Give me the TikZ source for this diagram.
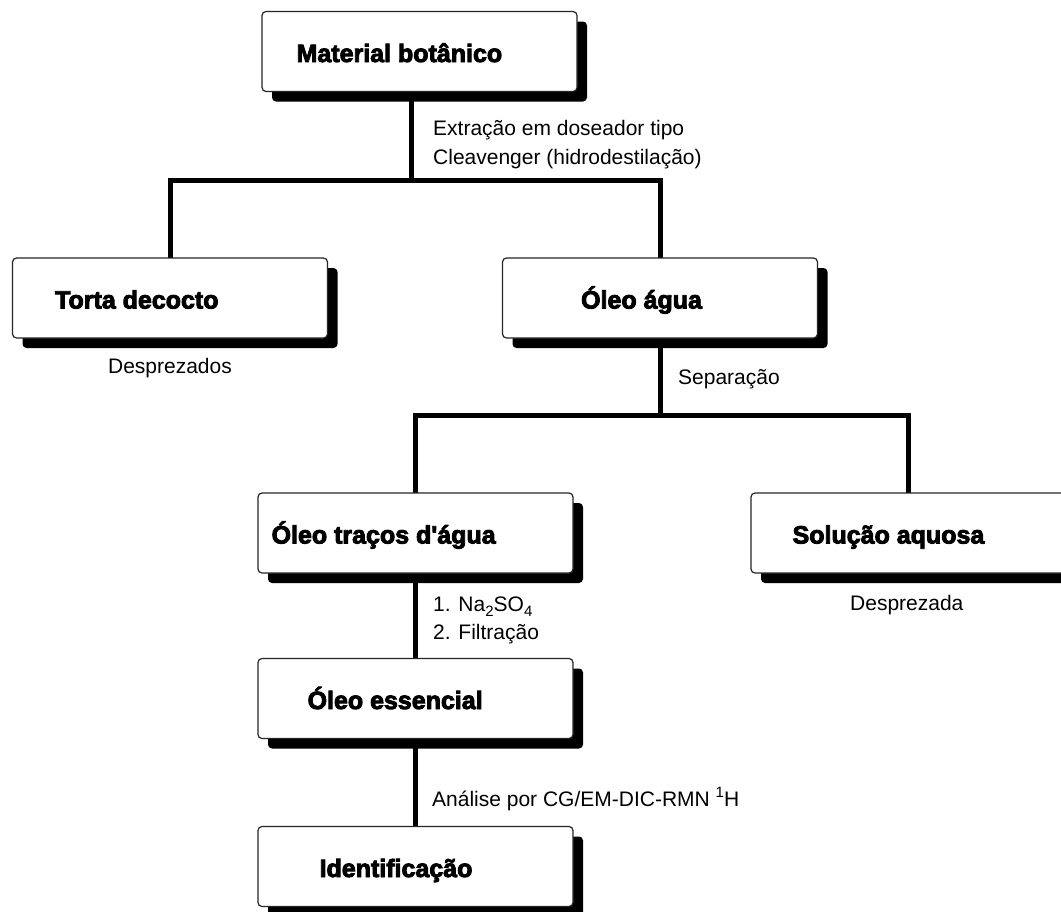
\documentclass[tikz,border=0pt]{standalone}
\usepackage{fontspec}
\setmainfont{Liberation Sans}
\newfontfamily\titlefont{Liberation Sans Bold}[RawFeature={embolden=3.5}]
\usetikzlibrary{shadows}
\pgfdeclarelayer{background}
\pgfsetlayers{background,main}

% small raised / lowered digits for formulas
\newcommand{\lowdigit}[1]{\raisebox{-0.5ex}{\fontsize{15}{15}\selectfont #1}}
\newcommand{\highdigit}[1]{\raisebox{0.8ex}{\fontsize{15}{15}\selectfont #1}}

\tikzset{
  stagebox/.style={draw=black!85, line width=1.2pt, fill=white,
    rounded corners=4pt, minimum width=315pt, minimum height=80pt,
    inner sep=0pt,
    drop shadow={shadow xshift=10pt, shadow yshift=-10pt,
      fill=black, opacity=1}},
  stagetitle/.style={anchor=base west, inner sep=0pt,
    font=\titlefont\fontsize{25}{30}\selectfont},
  steptext/.style={anchor=base west, inner sep=0pt,
    font=\fontsize{21}{28}\selectfont},
  conn/.style={line width=5pt, black, line join=miter},
}

\begin{document}
\begin{tikzpicture}[x=1pt, y=-1pt]
\useasboundingbox (0,0) rectangle (1061,911);
\clip (0,0) rectangle (1061,911);

% stage boxes
\node[stagebox] (mat)   at (419.5, 51.5) {};
\node[stagebox] (torta) at (170, 298) {};
\node[stagebox] (oleo)  at (660, 298) {};
\node[stagebox] (traco) at (415.5, 533) {};
\node[stagebox] (sol)   at (908.5, 533) {};
\node[stagebox] (ess)   at (415.5, 698.5) {};
\node[stagebox] (ident) at (415.5, 866.5) {};

% stage titles
\node[stagetitle] (tmat)   at ([shift={(35,10.5)}]mat.west)   {Material botânico};
\node[stagetitle] (ttorta) at ([shift={(43,10.5)}]torta.west) {Torta decocto};
\node[stagetitle] (toleo)  at ([shift={(79,10.5)}]oleo.west)  {Óleo água};
\node[stagetitle] (ttraco) at ([shift={(14,10.5)}]traco.west) {Óleo traços d'água};
\node[stagetitle] (tsol)   at ([shift={(42,10.5)}]sol.west)   {Solução aquosa};
\node[stagetitle] (tess)   at ([shift={(50,10.5)}]ess.west)   {Óleo essencial};
\node[stagetitle] (tident) at ([shift={(62,10.5)}]ident.west) {Identificação};

% branch points
\coordinate (j1) at (411,180);
\coordinate (j2) at (660,415);

% connectors, kept behind the boxes
\begin{pgfonlayer}{background}
  \fill[white] (0,0) rectangle (1061,911);
  \draw[conn] (j1 |- mat.center) -- (j1);
  \draw[conn] (torta.center) |- (j1) -| (oleo.center);
  \draw[conn] (oleo.center) -- (j2);
  \draw[conn] (traco.center) |- (j2) -| (sol.center);
  \draw[conn] (traco.center) -- (ess.center);
  \draw[conn] (ess.center) -- (ident.center);
\end{pgfonlayer}

% step descriptions
\node[steptext] (ext1) at (433,135) {Extração em doseador tipo};
\node[steptext] (ext2) at (433,164) {Cleavenger (hidrodestilação)};
\node[steptext, anchor=base] (desp1) at (170,373) {Desprezados};
\node[steptext] (sep)  at (678,384) {Separação};
\node[steptext] (na)   at (433,611) {1. Na\lowdigit{2}SO\lowdigit{4}};
\node[steptext] (filt) at (433,639) {2. Filtração};
\node[steptext] (desp2) at (850,610) {Desprezada};
\node[steptext] (anal) at (432,806) {Análise por CG/EM-DIC-RMN \highdigit{1}H};
\end{tikzpicture}
\end{document}
